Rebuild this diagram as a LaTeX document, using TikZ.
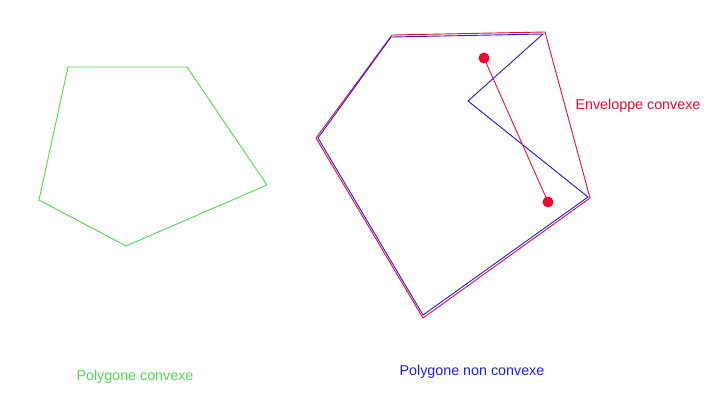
\documentclass[tikz,border=0pt]{standalone}
\usepackage{fontspec}
\setmainfont{Liberation Sans}
\definecolor{cgreen}{RGB}{85,215,85}
\definecolor{cblue}{RGB}{30,30,235}
\definecolor{cred}{RGB}{240,10,45}
\begin{document}
\begin{tikzpicture}[x=1pt,y=-1pt,
  edge/.style={line width=0.9pt, line join=miter},
  lbl/.style={font=\fontsize{14.3}{17}\selectfont, inner sep=0pt},
  dot/.style={circle, fill=cred, minimum size=11pt, inner sep=0pt}]
\useasboundingbox (0,0) rectangle (710,408);
% convex polygon
\coordinate (g1) at (68,67);
\coordinate (g2) at (187,67);
\coordinate (g3) at (267,185);
\coordinate (g4) at (126,246);
\coordinate (g5) at (39,200);
\draw[edge, cgreen] (g1) -- (g2) -- (g3) -- (g4) -- (g5) -- cycle;
% convex hull
\coordinate (h1) at (392,35);
\coordinate (h2) at (545,32);
\coordinate (h3) at (590,198);
\coordinate (h4) at (423,318);
\coordinate (h5) at (316,138);
\draw[edge, cred] (h1) -- (h2) -- (h3) -- (h4) -- (h5) -- cycle;
% non-convex polygon
\coordinate (b1) at (391,37);
\coordinate (b2) at (543,34);
\coordinate (b3) at (468,101);
\coordinate (b4) at (588,197);
\coordinate (b5) at (423,315);
\coordinate (b6) at (318,138);
\draw[edge, cblue] (b1) -- (b2) -- (b3) -- (b4) -- (b5) -- (b6) -- cycle;
% segment between two points
\node[dot] (p1) at (484,58) {};
\node[dot] (p2) at (548,202) {};
\draw[edge, cred] (p1.center) -- (p2.center);
% labels
\node[lbl, text=cgreen] (t1) at (135,377) {Polygone convexe};
\node[lbl, text=cblue] (t2) at (472,372) {Polygone non convexe};
\node[lbl, text=cred] (t3) at (638,106) {Enveloppe convexe};
\end{tikzpicture}
\end{document}
